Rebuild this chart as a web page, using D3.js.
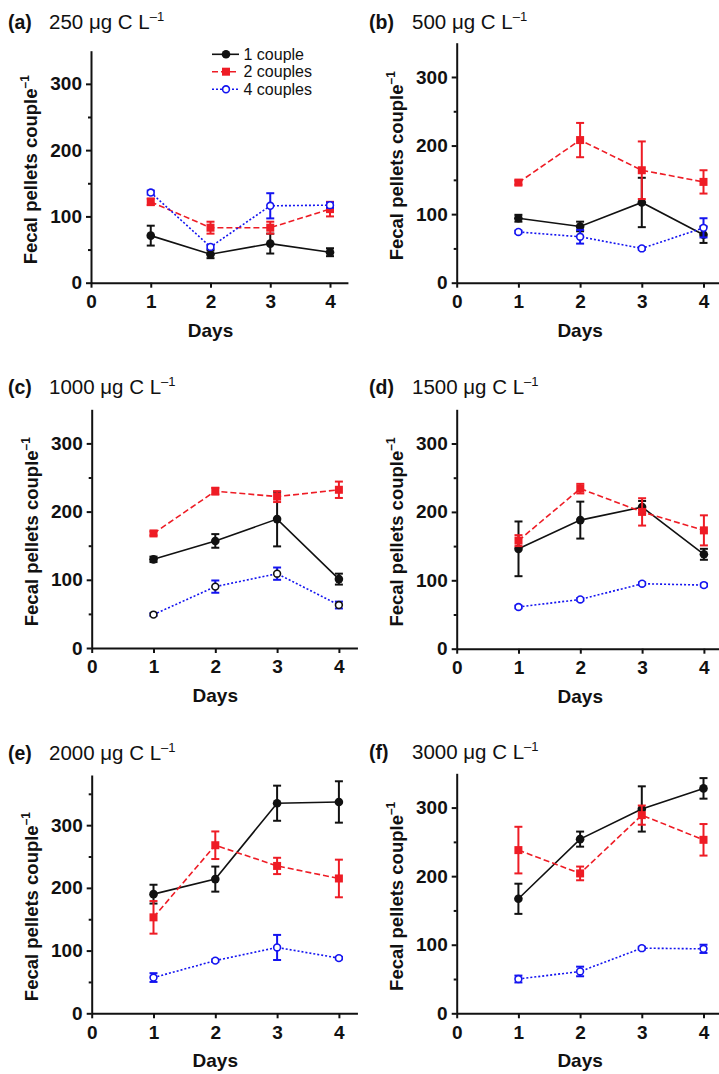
<!DOCTYPE html>
<html>
<head>
<meta charset="utf-8">
<script src="https://cdn.jsdelivr.net/npm/d3@7"></script>
<style>
  html, body { margin: 0; padding: 0; background: #fff; }
  svg { display: block; }
  text { font-family: "Liberation Sans", Arial, Helvetica, sans-serif; fill: #111; }
</style>
</head>
<body>
<div id="chart"></div>
<script>
// ---------------- DATA ----------------
const days = [1, 2, 3, 4];
const xTicks = [0, 1, 2, 3, 4];
const yTicks = [0, 100, 200, 300];
const yMinorTicks = [50, 150, 250, 350];
const panelLabels = ["(a)", "(b)", "(c)", "(d)", "(e)", "(f)"];
const concentrations = ["250", "500", "1000", "1500", "2000", "3000"];
const seriesNames = ["1 couple", "2 couples", "4 couples"];
const yMaxByPanel = [350, 350, 350, 350, 380, 350];

// 1 couple: means and error (± SE) per panel, days 1-4
const oneMean = [
  [71, 43, 59, 46],
  [94, 82, 117, 70],
  [130, 157, 189, 101],
  [146, 188, 207, 138],
  [190, 214, 335, 337],
  [167, 254, 298, 328]
];
const oneErr = [
  [15, 6, 15, 6],
  [5, 7, 36, 12],
  [4, 10, 40, 8],
  [40, 27, 9, 8],
  [15, 20, 28, 33],
  [22, 11, 33, 15]
];
// 2 couples
const twoMean = [
  [122, 83, 83, 111],
  [146, 208, 164, 147],
  [168, 230, 222, 232],
  [158, 234, 200, 173],
  [153, 268, 235, 215],
  [238, 204, 289, 253]
];
const twoErr = [
  [5, 9, 9, 11],
  [3, 25, 42, 17],
  [3, 5, 8, 12],
  [8, 7, 20, 22],
  [26, 22, 13, 30],
  [34, 10, 14, 23]
];
// 4 couples
const fourMean = [
  [136, 54, 116, 117],
  [74, 67, 50, 80],
  [49, 90, 109, 63],
  [61, 72, 95, 93],
  [57, 84, 105, 88],
  [50, 61, 95, 94]
];
const fourErr = [
  [3, 3, 19, 4],
  [2, 10, 2, 14],
  [2, 9, 9, 5],
  [2, 2, 2, 2],
  [7, 2, 20, 2],
  [5, 7, 2, 6]
];

// ---------------- LAYOUT / STYLE ----------------
const W = 719, H = 1074;
const layout = [
  { ox: 91,    sp: 59.75, y0: 282.7,  yt: 50.7,  tx: 8,   cx: 49,  ty: 29 },
  { ox: 456.7, sp: 61.7,  y0: 282.7,  yt: 42.7,  tx: 369, cx: 412, ty: 29 },
  { ox: 91.7,  sp: 61.8,  y0: 648,    yt: 409.3, tx: 8,   cx: 49,  ty: 394 },
  { ox: 456.7, sp: 61.8,  y0: 648.7,  yt: 409.3, tx: 369, cx: 412, ty: 394 },
  { ox: 91.7,  sp: 61.8,  y0: 1013.3, yt: 775,   tx: 8,   cx: 49,  ty: 760 },
  { ox: 456.7, sp: 61.7,  y0: 1013.3, yt: 773.3, tx: 369, cx: 412, ty: 759 }
];
const RED = "#ee1c25", BLUE = "#1414f0", BLACK = "#111";
const seriesStyle = [
  { color: BLACK, dash: null,  marker: "circle" },
  { color: RED,   dash: "6,3", marker: "square" },
  { color: BLUE,  dash: "2,2", marker: "open" }
];

const svg = d3.select("#chart").append("svg")
  .attr("width", W).attr("height", H);

function drawMarker(g, type, cx, cy, color, strokeOverride) {
  if (type === "circle") {
    g.append("circle").attr("cx", cx).attr("cy", cy).attr("r", 4.3).attr("fill", color);
  } else if (type === "square") {
    g.append("rect").attr("x", cx - 4).attr("y", cy - 4).attr("width", 8).attr("height", 8).attr("fill", color);
  } else {
    g.append("circle").attr("cx", cx).attr("cy", cy).attr("r", 3.4)
      .attr("fill", "#fff").attr("stroke", strokeOverride || color).attr("stroke-width", 1.6);
  }
}

panelLabels.forEach((lab, i) => {
  const L = layout[i];
  const ymax = yMaxByPanel[i];
  const x = d3.scaleLinear().domain([0, 4.3]).range([L.ox, L.ox + 4.3 * L.sp]);
  const y = d3.scaleLinear().domain([0, ymax]).range([L.y0, L.yt]);
  const g = svg.append("g");

  // Title
  g.append("text").attr("x", L.tx).attr("y", L.ty)
    .attr("font-size", 19.5).attr("font-weight", "bold").text(lab);
  const t = g.append("text").attr("x", L.cx).attr("y", L.ty).attr("font-size", 20.5);
  t.append("tspan").text(concentrations[i] + " μg C L");
  t.append("tspan").attr("font-size", 13).attr("dy", -8).text("–1");

  // Axes
  const xAxis = d3.axisBottom(x).tickValues(xTicks).tickSize(5).tickSizeOuter(0).tickPadding(7)
    .tickFormat(d3.format("d"));
  const gx = g.append("g").attr("transform", `translate(0,${L.y0})`).call(xAxis);
  const yAxis = d3.axisLeft(y).tickValues(yTicks).tickSize(5).tickSizeOuter(0).tickPadding(4)
    .tickFormat(d3.format("d"));
  const gy = g.append("g").attr("transform", `translate(${L.ox},0)`).call(yAxis);
  const yMinor = d3.axisLeft(y).tickValues(yMinorTicks.filter(v => v < ymax)).tickSize(3)
    .tickSizeOuter(0).tickFormat("");
  const gym = g.append("g").attr("transform", `translate(${L.ox},0)`).call(yMinor);
  gym.select(".domain").remove();
  [gx, gy, gym].forEach(a => {
    a.selectAll("path, line").attr("stroke", "#111").attr("stroke-width", 2);
    a.selectAll("text").attr("font-size", 19).attr("font-weight", "bold")
      .attr("fill", "#111").attr("font-family", "Liberation Sans, Arial, sans-serif");
  });

  // Axis titles
  g.append("text").attr("x", x(2)).attr("y", L.y0 + 54).attr("text-anchor", "middle")
    .attr("font-size", 19).attr("font-weight", "bold").text("Days");
  const yl = g.append("text")
    .attr("transform", `translate(${L.ox - 54},${y(175) + 3}) rotate(-90)`)
    .attr("text-anchor", "middle").attr("font-size", 18.5).attr("font-weight", "bold");
  yl.append("tspan").text("Fecal pellets couple");
  yl.append("tspan").attr("font-size", 12).attr("dy", -8).text("–1");

  // Series
  const means = [oneMean[i], twoMean[i], fourMean[i]];
  const errs = [oneErr[i], twoErr[i], fourErr[i]];
  means.forEach((m, s) => {
    const st = seriesStyle[s];
    const pts = days.map((d, k) => ({ day: d, v: m[k], e: errs[s][k] }));
    const sg = g.append("g");
    sg.append("path").datum(pts)
      .attr("d", d3.line().x(d => x(d.day)).y(d => y(d.v)))
      .attr("fill", "none").attr("stroke", st.color).attr("stroke-width", 1.6)
      .attr("stroke-dasharray", st.dash);
    pts.forEach(p => {
      const cx = x(p.day);
      sg.append("line").attr("x1", cx).attr("x2", cx).attr("y1", y(p.v - p.e)).attr("y2", y(p.v + p.e))
        .attr("stroke", st.color).attr("stroke-width", 2);
      [p.v - p.e, p.v + p.e].forEach(v => {
        sg.append("line").attr("x1", cx - 4).attr("x2", cx + 4).attr("y1", y(v)).attr("y2", y(v))
          .attr("stroke", st.color).attr("stroke-width", 2);
      });
      drawMarker(sg, st.marker, cx, y(p.v), st.color, (i === 2 && s === 2) ? BLACK : null);
    });
  });

  // Legend (panel a only)
  if (i === 0) {
    const lg = g.append("g");
    const rowsY = [54.3, 71.7, 89.3];
    seriesNames.forEach((name, s) => {
      const st = seriesStyle[s];
      const yy = rowsY[s];
      lg.append("line").attr("x1", 212).attr("x2", 239).attr("y1", yy).attr("y2", yy)
        .attr("stroke", st.color).attr("stroke-width", 1.6).attr("stroke-dasharray", st.dash);
      drawMarker(lg, st.marker, 226, yy, st.color, null);
      lg.append("text").attr("x", 243.5).attr("y", yy + 5.5).attr("font-size", 16).text(name);
    });
  }
});
</script>
</body>
</html>
